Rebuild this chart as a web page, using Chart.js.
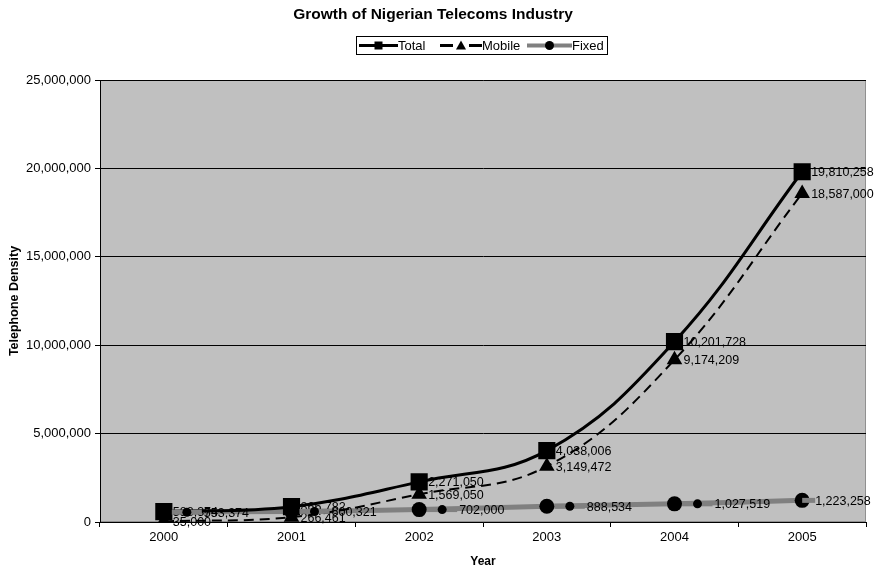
<!DOCTYPE html>
<html>
<head>
<meta charset="utf-8">
<script src="https://cdn.jsdelivr.net/npm/chart.js@4"></script>
<style>
  body { margin: 0; background: #fff; }
  #wrap { width: 879px; height: 570px; }
</style>
</head>
<body>
<div id="wrap"><canvas id="myChart" width="879" height="570"></canvas></div>
<script>
const years = ["2000", "2001", "2002", "2003", "2004", "2005"];
const total = [588374, 866782, 2271050, 4038006, 10201728, 19810258];
const mobile = [35000, 266461, 1569050, 3149472, 9174209, 18587000];
const fixed = [553374, 600321, 702000, 888534, 1027519, 1223258];
const yTicks = [0, 5000000, 10000000, 15000000, 20000000, 25000000];

const FONT = "'Liberation Sans', Arial, sans-serif";
const fmt = v => v.toLocaleString('en-US');

// grey plot area
const plotBg = {
    id: 'plotBg',
    beforeDraw(chart) {
        const { ctx, chartArea: a } = chart;
        ctx.save();
        ctx.fillStyle = '#c0c0c0';
        ctx.fillRect(a.left, a.top, a.right - a.left, a.bottom - a.top);
        ctx.strokeStyle = '#909090';
        ctx.lineWidth = 1;
        ctx.strokeRect(a.left + 0.5, a.top + 0.5, a.right - a.left - 1, a.bottom - a.top - 1);
        ctx.restore();
    }
};

// value labels next to each point
const valueLabels = {
    id: 'valueLabels',
    afterDatasetsDraw(chart) {
        const ctx = chart.ctx;
        ctx.save();
        ctx.font = '12.5px ' + FONT;
        ctx.textBaseline = 'middle';
        chart.data.datasets.forEach((ds, i) => {
            const meta = chart.getDatasetMeta(i);
            meta.data.forEach((pt, j) => {
                let x = pt.x + 9;
                if (ds.label === 'Fixed' && j < ds.data.length - 1) {
                    // legend key in label
                    ctx.strokeStyle = '#808080';
                    ctx.lineWidth = 5;
                    ctx.beginPath();
                    ctx.moveTo(pt.x + 8, pt.y);
                    ctx.lineTo(pt.x + 38, pt.y);
                    ctx.stroke();
                    ctx.beginPath();
                    ctx.arc(pt.x + 23, pt.y, 4.5, 0, Math.PI * 2);
                    ctx.fillStyle = '#000';
                    ctx.fill();
                    x = pt.x + 40;
                } else if (ds.label === 'Fixed') {
                    ctx.strokeStyle = '#808080';
                    ctx.lineWidth = 5;
                    ctx.beginPath();
                    ctx.moveTo(pt.x, pt.y);
                    ctx.lineTo(pt.x + 13, pt.y);
                    ctx.stroke();
                    x = pt.x + 13;
                }
                ctx.fillStyle = '#000';
                ctx.fillText(fmt(ds.data[j]), x, pt.y + 1);
            });
        });
        ctx.restore();
    }
};

// boxed legend with line + marker samples
const boxLegend = {
    id: 'boxLegend',
    afterDraw(chart) {
        const ctx = chart.ctx;
        ctx.save();
        ctx.strokeStyle = '#000';
        ctx.lineWidth = 1;
        ctx.strokeRect(356.5, 36.5, 251, 18);
        const cy = 45.5;
        const items = [
            { x0: 359, x1: 398, label: 'Total', color: '#000', w: 3, mark: 'rect' },
            { x0: 440, x1: 482, label: 'Mobile', color: '#000', w: 3, mark: 'tri' },
            { x0: 527, x1: 572, label: 'Fixed', color: '#808080', w: 4, mark: 'circle' }
        ];
        ctx.font = '13px ' + FONT;
        ctx.textBaseline = 'middle';
        items.forEach(it => {
            ctx.strokeStyle = it.color;
            ctx.lineWidth = it.w;
            ctx.beginPath();
            ctx.moveTo(it.x0, cy);
            ctx.lineTo(it.x1, cy);
            ctx.stroke();
            const mx = (it.x0 + it.x1) / 2;
            ctx.fillStyle = '#000';
            ctx.beginPath();
            if (it.mark === 'rect') ctx.rect(mx - 4, cy - 4, 8, 8);
            else if (it.mark === 'tri') {
                ctx.clearRect(mx - 8, cy - 2, 16, 4);
                ctx.moveTo(mx, cy - 5); ctx.lineTo(mx + 5, cy + 4); ctx.lineTo(mx - 5, cy + 4); ctx.closePath();
            }
            else ctx.arc(mx, cy, 4.5, 0, Math.PI * 2);
            ctx.fill();
            ctx.fillText(it.label, it.x1, cy + 1);
        });
        ctx.restore();
    }
};

new Chart(document.getElementById('myChart'), {
    type: 'line',
    data: {
        labels: years,
        datasets: [
            {
                label: 'Total', data: total,
                borderColor: '#000', backgroundColor: '#000', borderWidth: 3,
                pointStyle: 'rect', pointRadius: 10, pointHoverRadius: 10,
                tension: 0.4
            },
            {
                label: 'Mobile', data: mobile,
                borderColor: '#000', backgroundColor: '#000', borderWidth: 2, borderDash: [10, 6],
                pointStyle: 'triangle', pointRadius: 7, pointHoverRadius: 7,
                tension: 0.4
            },
            {
                label: 'Fixed', data: fixed,
                borderColor: '#808080', backgroundColor: '#000', borderWidth: 5,
                pointStyle: 'circle', pointRadius: 7.5, pointBorderWidth: 0, pointHoverRadius: 7.5,
                tension: 0.4
            }
        ]
    },
    options: {
        responsive: false,
        animation: false,
        layout: { padding: { left: 0, right: 13, top: 0, bottom: 0 } },
        plugins: {
            legend: { display: false },
            tooltip: { enabled: false },
            title: {
                display: true,
                text: 'Growth of Nigerian Telecoms Industry',
                color: '#000',
                font: { family: FONT, size: 15.5, weight: 'bold' },
                padding: { top: 5, bottom: 56.4 }
            }
        },
        scales: {
            x: {
                offset: true,
                grid: { offset: true, drawOnChartArea: false, color: '#000', tickLength: 5 },
                border: { color: '#000', width: 1 },
                ticks: { color: '#000', font: { family: FONT, size: 13 }, padding: 3 },
                title: { display: true, text: 'Year', color: '#000', font: { family: FONT, size: 12, weight: 'bold' }, padding: { top: 4, bottom: 1 } },
                afterFit(s) { s.height = 48; }
            },
            y: {
                min: 0, max: 25000000,
                afterBuildTicks(s) { s.ticks = yTicks.map(v => ({ value: v })); },
                grid: { color: '#000', lineWidth: 1, tickLength: 5 },
                border: { color: '#000', width: 1 },
                ticks: { color: '#000', font: { family: FONT, size: 13 }, padding: 4, callback: v => fmt(v) },
                title: { display: true, text: 'Telephone Density', color: '#000', font: { family: FONT, size: 12.5, weight: 'bold' }, padding: { top: 7, bottom: 0 } },
                afterFit(s) { s.width = 100; }
            }
        }
    },
    plugins: [plotBg, valueLabels, boxLegend]
});
</script>
</body>
</html>
